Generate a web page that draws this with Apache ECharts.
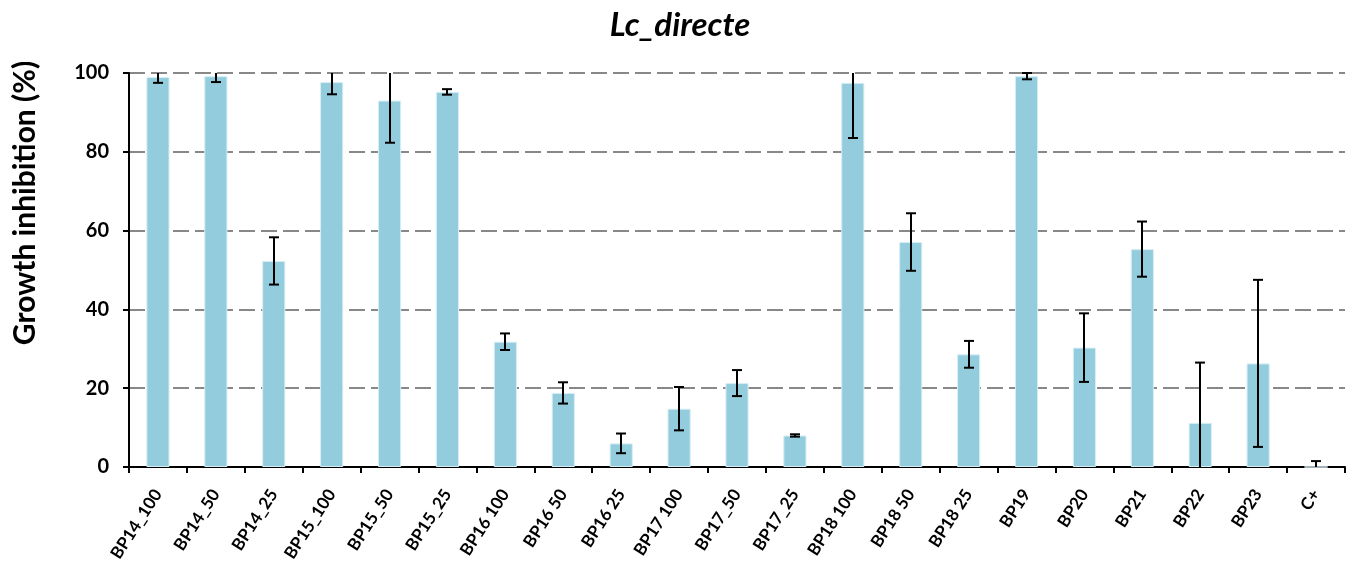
<!DOCTYPE html>
<html>
<head>
<meta charset="utf-8">
<script src="https://cdn.jsdelivr.net/npm/echarts@6/dist/echarts.min.js"></script>
<style>
html,body{margin:0;padding:0;background:#fff;}
#chart{width:1360px;height:568px;}
</style>
</head>
<body>
<div id="chart"></div>
<script>
// Growth inhibition (%) per sample, with standard deviation
const categories = ['BP14_100','BP14_50','BP14_25','BP15_100','BP15_50','BP15_25','BP16 100','BP16 50','BP16 25','BP17 100','BP17_50','BP17_25','BP18 100','BP18 50','BP18 25','BP19','BP20','BP21','BP22','BP23','C+'];
const inhibition = [99.0, 99.2, 52.3, 97.7, 93.0, 95.2, 31.8, 18.8, 6.0, 14.8, 21.3, 8.0, 97.5, 57.1, 28.6, 99.2, 30.3, 55.3, 11.2, 26.3, 0.0];
const stdDev = [1.5, 1.5, 6.0, 3.1, 10.7, 0.7, 2.1, 2.7, 2.5, 5.5, 3.3, 0.3, 14.0, 7.3, 3.4, 0.8, 8.7, 7.0, 15.3, 21.2, 1.5];
const yTicks = [0, 20, 40, 60, 80, 100];
const yTitle = 'Growth inhibition (%)';

const Y_MIN = yTicks[0], Y_MAX = yTicks[yTicks.length - 1];
const FONT = 'Lato, "Open Sans", sans-serif';

const errData = categories.map((c, i) => [i, inhibition[i] - stdDev[i], inhibition[i] + stdDev[i]]);

const chart = echarts.init(document.getElementById('chart'), null, {renderer: 'canvas'});
chart.setOption({
  backgroundColor: '#ffffff',
  animation: false,
  title: {
    text: 'Lc_directe',
    left: 'center',
    top: 4,
    textStyle: {fontFamily: FONT, fontSize: 33, fontWeight: 'bold', fontStyle: 'italic', color: '#000'}
  },
  graphic: [{
    type: 'text',
    x: 25, y: 203,
    rotation: Math.PI / 2,
    style: {
      text: yTitle,
      font: 'bold 30px ' + FONT,
      fill: '#000',
      align: 'center',
      verticalAlign: 'middle'
    }
  }],
  grid: {left: 129, right: 15, top: 73, bottom: 101, containLabel: false},
  xAxis: {
    type: 'category',
    data: categories,
    axisLine: {lineStyle: {color: '#000', width: 2}},
    axisTick: {show: true, alignWithLabel: false, length: 6, lineStyle: {color: '#000', width: 2}},
    axisLabel: {
      rotate: 57, interval: 0, margin: 24,
      fontFamily: FONT, fontSize: 17, fontWeight: 'bold', color: '#000'
    }
  },
  yAxis: {
    type: 'value',
    min: Y_MIN, max: Y_MAX, interval: 20,
    axisLine: {show: true, lineStyle: {color: '#000', width: 2}},
    axisTick: {show: true, length: 6, lineStyle: {color: '#000', width: 2}},
    axisLabel: {fontFamily: FONT, fontSize: 20, fontWeight: 'bold', color: '#000', margin: 20},
    splitLine: {show: true, lineStyle: {color: '#888888', width: 2, type: [16, 6]}}
  },
  series: [
    {
      type: 'bar',
      data: inhibition,
      barWidth: '40%',
      itemStyle: {color: '#93CDDD', borderColor: '#d7eef4', borderWidth: 1},
      z: 2
    },
    {
      type: 'custom',
      data: errData,
      z: 5,
      renderItem: function (params, api) {
        const idx = api.value(0);
        const lo = api.value(1), hi = api.value(2);
        const loC = Math.max(lo, Y_MIN), hiC = Math.min(hi, Y_MAX);
        const pLo = api.coord([idx, loC]);
        const pHi = api.coord([idx, hiC]);
        const x = Math.round(pLo[0]);
        const half = 5;
        const style = {stroke: '#000', lineWidth: 2};
        const children = [{
          type: 'line', shape: {x1: x, y1: pLo[1], x2: x, y2: pHi[1]}, style: style
        }];
        if (hi <= Y_MAX) children.push({type: 'line', shape: {x1: x - half, y1: pHi[1], x2: x + half, y2: pHi[1]}, style: style});
        if (lo >= Y_MIN) children.push({type: 'line', shape: {x1: x - half, y1: pLo[1], x2: x + half, y2: pLo[1]}, style: style});
        return {type: 'group', children: children};
      }
    }
  ]
});
</script>
</body>
</html>
